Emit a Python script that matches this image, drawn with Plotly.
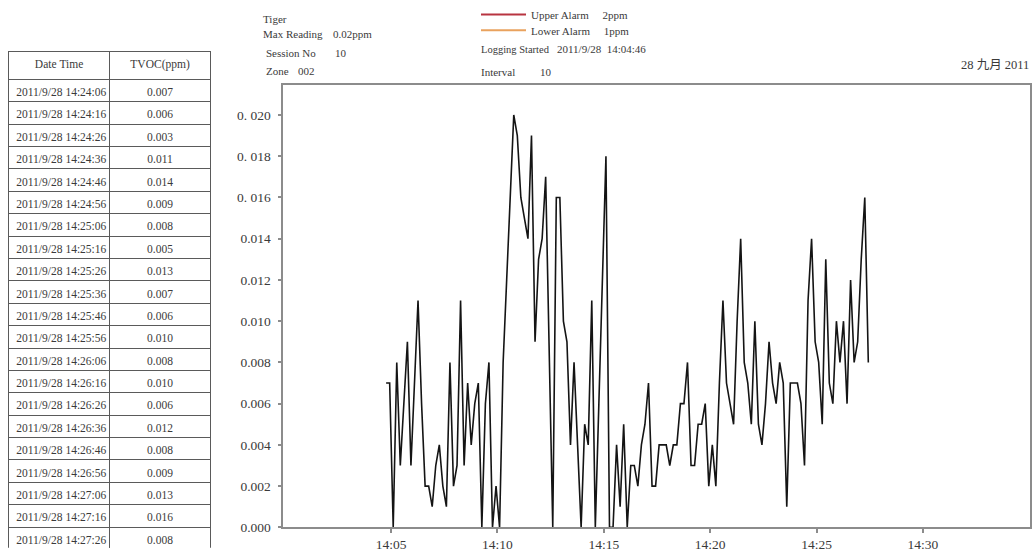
import pandas as pd
import plotly.graph_objects as go

W, H = 1032, 556

# ---------------- data ----------------
logging_start = "2011-09-28 14:04:46"
interval_s = 10
tvoc_ppm = [
    0.007, 0.007, 0.000, 0.008, 0.003, 0.006, 0.009, 0.003, 0.007, 0.011,
    0.006, 0.002, 0.002, 0.001, 0.003, 0.004, 0.002, 0.001, 0.008, 0.002,
    0.003, 0.011, 0.003, 0.007, 0.004, 0.006, 0.007, 0.000, 0.006, 0.008,
    0.000, 0.002, 0.000, 0.008, 0.012, 0.016, 0.020, 0.019, 0.016, 0.015,
    0.014, 0.019, 0.009, 0.013, 0.014, 0.017, 0.008, 0.000, 0.016, 0.016,
    0.010, 0.009, 0.004, 0.008, 0.004, 0.000, 0.005, 0.004, 0.011, 0.000,
    0.006, 0.012, 0.018, 0.000, 0.000, 0.004, 0.001, 0.005, 0.000, 0.003,
    0.003, 0.002, 0.004, 0.005, 0.007, 0.002, 0.002, 0.004, 0.004, 0.004,
    0.003, 0.004, 0.004, 0.006, 0.006, 0.008, 0.003, 0.003, 0.005, 0.005,
    0.006, 0.002, 0.004, 0.002, 0.007, 0.011, 0.007, 0.006, 0.005, 0.010,
    0.014, 0.008, 0.007, 0.005, 0.010, 0.005, 0.004, 0.006, 0.009, 0.007,
    0.006, 0.008, 0.007, 0.001, 0.007, 0.007,
    # last 21 readings (as listed in the table)
    0.007, 0.006, 0.003, 0.011, 0.014, 0.009, 0.008, 0.005, 0.013, 0.007,
    0.006, 0.010, 0.008, 0.010, 0.006, 0.012, 0.008, 0.009, 0.013, 0.016,
    0.008,
]
table_rows = 21

alarm_names = ["Upper Alarm", "Lower Alarm"]
alarm_ppm = [2, 1]
alarm_colors = ["#b83440", "#e9a25e"]

x_tick_labels = ["14:05", "14:10", "14:15", "14:20", "14:25", "14:30"]
y_tick_vals = [0.000, 0.002, 0.004, 0.006, 0.008, 0.010, 0.012, 0.014, 0.016, 0.018, 0.020]
y_tick_labels = ["0.000", "0.002", "0.004", "0.006", "0.008", "0.010", "0.012",
                 "0.014", "0. 016", "0. 018", "0. 020"]

info_labels = ["Tiger", "Max Reading", "Session No", "Zone", "Logging Started", "Interval"]
info_values = ["", "0.02ppm", "10", "002", "2011/9/28\u00a0\u00a014:04:46", "10"]
date_label = "28 九月 2011"

# ---------------- derived ----------------
times = pd.date_range(logging_start, periods=len(tvoc_ppm), freq=f"{interval_s}s")
day = times[0].strftime("%Y-%m-%d")
x_tick_vals = [pd.Timestamp(f"{day} {t}") for t in x_tick_labels]

tbl_times = [f"{t.year}/{t.month}/{t.day}\u00a0{t:%H:%M:%S}" for t in times[-table_rows:]]
tbl_vals = [f"{v:.3f}" for v in tvoc_ppm[-table_rows:]]


def fx(px):
    return px / W


def fy(py):
    return 1 - py / H


SERIF = "Liberation Serif, Noto Sans CJK SC"
TXT = "#3a3a3a"
FRAME = "#8c8c8c"

fig = go.Figure()

fig.add_trace(go.Table(
    domain=dict(x=[fx(8.3), fx(210.7)], y=[0, fy(51.7)]),
    columnwidth=[101.7, 100.7],
    header=dict(values=["Date\u00a0Time", "TVOC(ppm)"], height=27.6, align="center",
                line=dict(color="#5a5a5a", width=1), fill_color="white",
                font=dict(family=SERIF, size=11.5, color=TXT)),
    cells=dict(values=[tbl_times, tbl_vals], height=22.38, align=["left", "center"],
               line=dict(color="#5a5a5a", width=1), fill_color="white",
               font=dict(family=SERIF, size=11.5, color=TXT)),
))

fig.add_trace(go.Scatter(
    x=times, y=tvoc_ppm, mode="lines",
    line=dict(color="#141414", width=1.6),
    showlegend=False, hoverinfo="skip",
))

legend_keys = ["legend", "legend2"]
for name, ppm, col, lk in zip(alarm_names, alarm_ppm, alarm_colors, legend_keys):
    fig.add_trace(go.Scatter(
        x=[times[0], times[-1]], y=[ppm, ppm], mode="lines",
        line=dict(color=col, width=2), legend=lk,
        name=f"{name}\u00a0\u00a0\u00a0\u00a0\u00a0{ppm}ppm", showlegend=True, hoverinfo="skip",
    ))

annotations = []
label_pos = [(261, 18), (261, 34), (264, 53), (264, 71), (479, 49), (479, 72)]
value_x = [None, 331, 333, 296, 555, 538]
label_size = [11, 11, 11, 11, 10.5, 11]
for lab, val, (lx, ly), vx, fs in zip(info_labels, info_values, label_pos, value_x, label_size):
    annotations.append(dict(text=lab, x=fx(lx), y=fy(ly), xref="paper", yref="paper",
                            xanchor="left", yanchor="middle", showarrow=False,
                            font=dict(family=SERIF, size=fs, color=TXT)))
    if val:
        annotations.append(dict(text=val, x=fx(vx), y=fy(ly), xref="paper", yref="paper",
                                xanchor="left", yanchor="middle", showarrow=False,
                                font=dict(family=SERIF, size=11, color=TXT)))
annotations.append(dict(text=date_label, x=fx(1031), y=fy(65), xref="paper", yref="paper",
                        xanchor="right", yanchor="middle", showarrow=False,
                        font=dict(family=SERIF, size=12.5, color=TXT)))

legend_style = dict(xanchor="left", yanchor="top", bgcolor="rgba(0,0,0,0)",
                    itemwidth=45, font=dict(family=SERIF, size=11, color=TXT))

fig.update_layout(
    width=W, height=H,
    margin=dict(l=0, r=0, t=0, b=0),
    paper_bgcolor="white", plot_bgcolor="white",
    font=dict(family=SERIF, color=TXT),
    annotations=annotations,
    legend=dict(x=fx(476), y=fy(-1), **legend_style),
    legend2=dict(x=fx(476), y=fy(15), **legend_style),
    xaxis=dict(
        domain=[fx(283.3), fx(1030)],
        range=[f"{day} 13:59:56", f"{day} 14:35:02"],
        tickvals=x_tick_vals, ticktext=x_tick_labels,
        ticks="outside", ticklen=4, tickcolor=FRAME, tickwidth=1.5,
        showline=True, linecolor=FRAME, linewidth=1.5, mirror=True,
        showgrid=False, zeroline=False,
        tickfont=dict(family=SERIF, size=13.5, color=TXT),
    ),
    yaxis=dict(
        domain=[fy(535), fy(85.7)],
        range=[0, 0.02144],
        tickvals=y_tick_vals, ticktext=y_tick_labels,
        ticks="outside", ticklen=4, tickcolor=FRAME, tickwidth=1.5,
        showline=True, linecolor=FRAME, linewidth=1.5, mirror=True,
        showgrid=False, zeroline=False, ticklabelstandoff=4,
        tickfont=dict(family=SERIF, size=13.5, color=TXT),
    ),
)

fig.write_html(
    "out.html",
    config={"displayModeBar": False},
    post_script="document.body.style.margin='0';document.body.style.overflow='hidden';",
)
